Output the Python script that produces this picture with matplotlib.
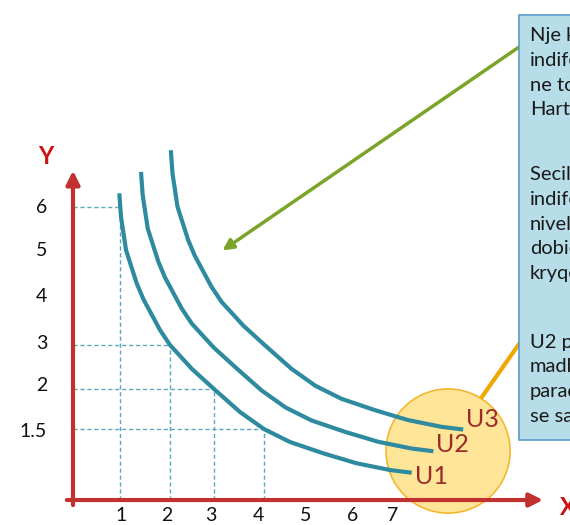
import matplotlib
matplotlib.use("Agg")
import matplotlib.pyplot as plt
from matplotlib.patches import Ellipse, Rectangle

plt.rcParams['font.family'] = ['Lato', 'DejaVu Sans']

# indifference curves (schematic units)
u1_x = [0.985, 1.021, 1.128, 1.355, 1.496, 1.851, 2.064, 2.532, 3.0, 3.553, 4.064, 4.617, 5.326, 6.036, 6.745, 7.206]
u1_y = [6.667, 6.159, 5.435, 4.711, 4.370, 3.696, 3.370, 2.848, 2.413, 1.913, 1.543, 1.261, 1.015, 0.798, 0.652, 0.593]
u2_x = [1.447, 1.483, 1.590, 1.817, 1.958, 2.313, 2.526, 2.994, 3.462, 4.015, 4.526, 5.079, 5.788, 6.498, 7.207, 7.668]
u2_y = [7.134, 6.626, 5.902, 5.178, 4.837, 4.163, 3.837, 3.315, 2.880, 2.380, 2.010, 1.728, 1.482, 1.265, 1.119, 1.060]
u3_x = [2.081, 2.117, 2.224, 2.451, 2.592, 2.947, 3.160, 3.628, 4.096, 4.649, 5.160, 5.713, 6.422, 7.132, 7.841, 8.302]
u3_y = [7.606, 7.098, 6.374, 5.650, 5.309, 4.635, 4.309, 3.787, 3.352, 2.852, 2.482, 2.200, 1.954, 1.737, 1.591, 1.532]
curve_names = ['U1', 'U2', 'U3']

# dashed guides on U1
guide_x = [1.0, 2.06, 3.0, 4.06]
guide_y = [6.37, 3.37, 2.41, 1.54]

xtick_pos = [1.02, 2.0, 2.94, 3.94, 4.94, 5.94, 6.79]
xtick_lab = ['1', '2', '3', '4', '5', '6', '7']
ytick_pos = [6.37, 5.43, 4.43, 3.41, 2.48, 1.48]
ytick_lab = ['6', '5', '4', '3', '2', '1.5']

para1 = ['Nje kurbe', 'indiference', 'ne total', 'Harta']
para2 = ['Secila kurbe', 'indiference', 'nivel', 'dobie', 'kryqezohen']
para3 = ['U2 paraqet', 'madhesi', 'paraqet', 'se sa U1']

teal = '#2e8a9e'
red = '#c0312f'
dark_red = '#9c2a2a'

fig = plt.figure(figsize=(5.7, 5.25), dpi=100)
ax = fig.add_axes([0, 0, 1, 1])
ax.set_xlim(-1.553, 10.574)
ax.set_ylim(-0.543, 10.870)
ax.axis('off')

# highlight circle
ax.add_patch(Ellipse((7.98, 1.065), 2.64, 2.70, facecolor='#ffe598', edgecolor='#f3b733', lw=1.2, zorder=1))
ax.plot([8.70, 9.55], [2.24, 3.48], color='#f0a800', lw=3, zorder=1)

# dashed guides
for gx, gy in zip(guide_x, guide_y):
    ax.plot([0, gx], [gy, gy], ls=(0, (3, 2)), color='#5aa9bb', lw=1, zorder=2)
    ax.plot([gx, gx], [0, gy], ls=(0, (3, 2)), color='#5aa9bb', lw=1, zorder=2)

# curves
for cx, cy in [(u1_x, u1_y), (u2_x, u2_y), (u3_x, u3_y)]:
    ax.plot(cx, cy, color=teal, lw=3, solid_capstyle='butt', solid_joinstyle='round', zorder=3)

ax.text(7.28, 0.52, curve_names[0], color=dark_red, fontsize=18, va='center', ha='left', zorder=4)
ax.text(7.72, 1.20, curve_names[1], color=dark_red, fontsize=18, va='center', ha='left', zorder=4)
ax.text(8.36, 1.74, curve_names[2], color=dark_red, fontsize=18, va='center', ha='left', zorder=4)

# axes arrows
ax.annotate('', xy=(0, 7.22), xytext=(0, -0.17),
            arrowprops=dict(arrowstyle='-|>', color=red, lw=3, mutation_scale=20), zorder=5)
ax.annotate('', xy=(10.06, 0), xytext=(-0.19, 0),
            arrowprops=dict(arrowstyle='-|>', color=red, lw=3, mutation_scale=20), zorder=5)
ax.text(-0.574, 7.46, 'Y', color='#cc1111', fontsize=17, fontweight='bold', ha='center', va='center')
ax.text(10.53, -0.17, 'X', color='#cc1111', fontsize=17, fontweight='bold', ha='center', va='center')

for p, l in zip(xtick_pos, xtick_lab):
    ax.text(p, -0.33, l, fontsize=14, ha='center', va='center', color='#111111')
for p, l in zip(ytick_pos, ytick_lab):
    ax.text(-0.553, p, l, fontsize=14, ha='right', va='center', color='#111111')

# green pointer
ax.annotate('', xy=(3.13, 5.39), xytext=(9.55, 9.89),
            arrowprops=dict(arrowstyle='-|>', color='#7ba428', lw=2.5, mutation_scale=16))

# text box
ax.add_patch(Rectangle((9.49, 1.30), 2.0, 9.24, facecolor='#b7dde8', edgecolor='#5b9bc8', lw=1.2, zorder=6))
step = 0.535
for start, lines in [(10.09, para1), (7.07, para2), (3.43, para3)]:
    for i, line in enumerate(lines):
        ax.text(9.72, start - i * step, line, fontsize=14.5, ha='left', va='center', color='#1a1a1a', zorder=7)

fig.savefig('out.png', dpi=100)
